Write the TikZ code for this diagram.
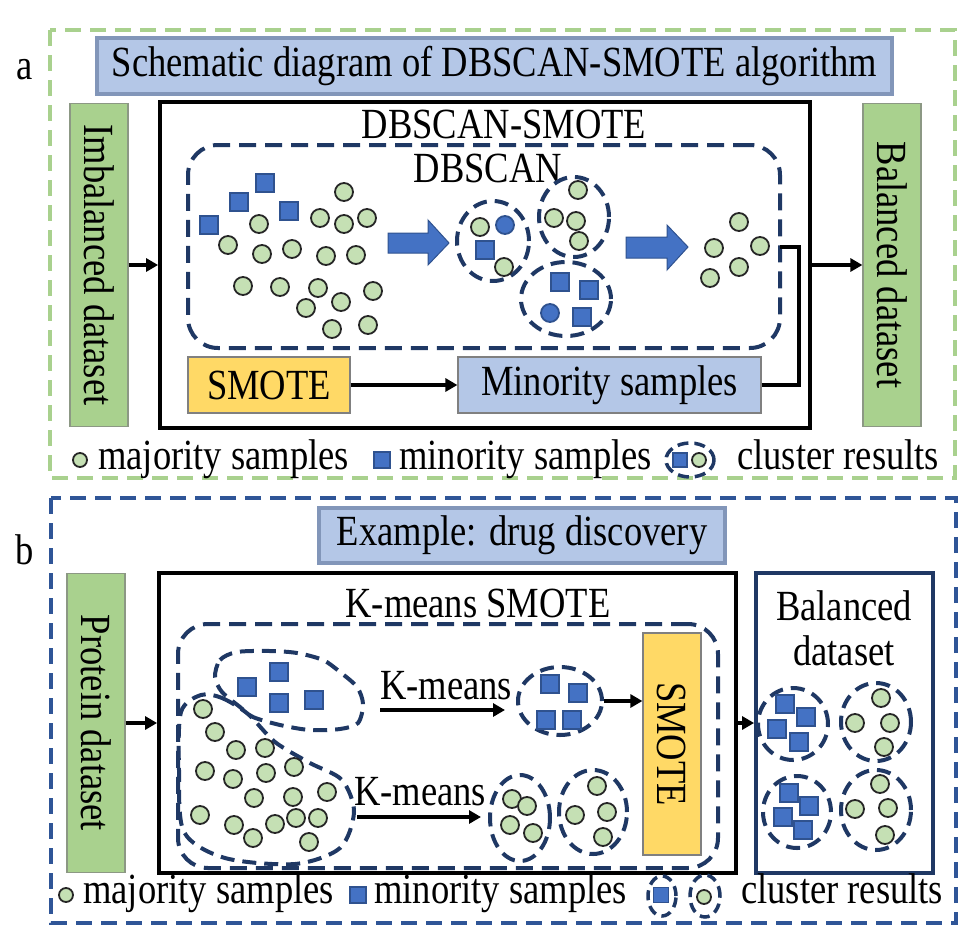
\documentclass[tikz,border=0pt]{standalone}
\usepackage{fontspec}
\setmainfont{Liberation Serif}[FakeStretch=0.85]
\usepackage{tikz}
\usetikzlibrary{arrows.meta}
\usetikzlibrary{shapes.geometric}
\definecolor{leafgreen}{RGB}{169, 209, 142}
\definecolor{dotgreen}{RGB}{197, 224, 180}
\definecolor{sqblue}{RGB}{68, 114, 196}
\definecolor{sqedge}{RGB}{47, 82, 143}
\definecolor{navy}{RGB}{31, 56, 100}
\definecolor{paleblue}{RGB}{180, 199, 231}
\definecolor{bevel}{RGB}{130, 150, 185}
\definecolor{sunyellow}{RGB}{255, 217, 102}
\definecolor{frameblue}{RGB}{47, 85, 151}

\begin{document}
\begin{tikzpicture}[x=1pt, y=-1pt, font=\fontsize{43}{45}\selectfont,
        maj/.style = {circle, draw=black!85, fill=dotgreen, line width=1.8pt, minimum size=18pt, inner sep=0pt},
        mino/.style = {rectangle, draw=sqedge, fill=sqblue, line width=1.2pt, minimum size=18pt, inner sep=0pt},
        coredot/.style = {maj, draw=sqedge, fill=sqblue},
        clus/.style = {ellipse, draw=navy, line width=4pt, dash pattern=on 14pt off 8pt, inner sep=0pt},
        blob/.style = {draw=navy, line width=4pt, dash pattern=on 17pt off 9pt, rounded corners=30pt, inner sep=0pt},
        sidebox/.style = {draw=gray!70!leafgreen, fill=leafgreen, line width=1.2pt, rotate=-90, minimum height=58pt, inner sep=0pt},
        framebox/.style = {draw=black, line width=3.8pt, inner sep=0pt},
        headbox/.style = {draw=bevel, fill=paleblue, line width=4pt, inner sep=0pt},
        stepbox/.style = {draw=gray, line width=1.2pt, minimum height=56pt, inner sep=0pt},
        txt/.style = {inner sep=0pt},
        arr/.style = {line width=3.5pt, -{Triangle[length=12pt, width=13pt]}},
        bigarrow/.style = {fill=sqblue, draw=sqedge, line width=1pt}]
        \useasboundingbox (0,0) rectangle (970,946);

        \draw[leafgreen, line width=3.5pt, dash pattern=on 16pt off 9pt] (50,30) rectangle (955,478);
        \node[txt] (tagA) at (25,70) {a};
        \node[headbox, minimum width=795pt, minimum height=56pt] (headA) at (494.5,66) {Schematic diagram of DBSCAN-SMOTE algorithm};
        \node[sidebox, minimum width=323pt] (imb) at (99,265) {Imbalanced dataset};
        \node[framebox, minimum width=650pt, minimum height=326pt] (dsbox) at (485,265) {};
        \node[sidebox, minimum width=323pt] (bal) at (892,265) {Balanced dataset};
        \draw[arr] (imb) -- (dsbox);
        \draw[arr] (dsbox) -- (bal);
        \node[txt] (dstitle) at (504,124) {DBSCAN-SMOTE};
        \node[blob, minimum width=592pt, minimum height=203pt] (dbscan) at (484,246.5) {};
        \node[txt] (dbtitle) at (488,168) {DBSCAN};

        \foreach \x/\y [count=\i] in {209/225, 239/202, 265/183, 289/211}
            \node[mino] (sa\i) at (\x,\y) {};
        \foreach \x/\y [count=\i] in {344/192, 259/224, 228/245, 320/218, 344/224, 367/218, 262/254, 292/249, 326/256, 356/255, 243/286, 280/287, 318/288, 341/302, 373/291, 306/308, 332/329, 368/325}
            \node[maj] (ga\i) at (\x,\y) {};

        \draw[bigarrow] (388,233) -- (428,233) -- (428,220) -- (449,243) -- (428,265) -- (428,253) -- (388,253) -- cycle;
        \draw[bigarrow] (626,237) -- (667,237) -- (667,225) -- (688,247) -- (667,270) -- (667,258) -- (626,258) -- cycle;

        \node[clus, minimum width=72pt, minimum height=80pt] (ca1) at (493,241) {};
        \node[clus, minimum width=70pt, minimum height=80pt] (ca2) at (574,217) {};
        \node[clus, minimum width=90pt, minimum height=74pt] (ca3) at (566,299) {};
        \node[maj] (ca1g1) at (480,227) {};
        \node[coredot] (ca1b) at (505,225) {};
        \node[mino] (ca1s) at (485,250) {};
        \node[maj] (ca1g2) at (504,267) {};
        \foreach \x/\y [count=\i] in {578/190, 554/218, 576/221, 579/241}
            \node[maj] (ca2g\i) at (\x,\y) {};
        \foreach \x/\y [count=\i] in {560/282, 589/290, 582/317}
            \node[mino] (ca3s\i) at (\x,\y) {};
        \node[coredot] (ca3b) at (550,313) {};
        \foreach \x/\y [count=\i] in {739/222, 714/248, 760/246, 739/267, 710/278}
            \node[maj] (oa\i) at (\x,\y) {};

        \node[stepbox, fill=sunyellow, minimum width=162pt] (smote) at (269,385) {SMOTE};
        \node[stepbox, fill=paleblue, minimum width=303pt] (minor) at (609.5,385) {Minority samples};
        \draw[arr] (smote) -- (minor);
        \coordinate (join) at (780,247);
        \coordinate (bend) at (799,247);
        \draw[line width=3.5pt] (minor.east) -| (bend) -- (join);

        \node[maj, minimum size=14pt] (lgA1) at (80,460) {};
        \node[txt, anchor=base west] (lgA1t) at (98,469) {majority samples};
        \node[mino, minimum size=16pt] (lgA2) at (382,460) {};
        \node[txt, anchor=base west] (lgA2t) at (399,469) {minority samples};
        \node[mino, minimum size=14pt] (lgA3s) at (680,460) {};
        \node[maj, minimum size=14pt] (lgA3g) at (699,460) {};
        \node[clus, line width=3.5pt, dash pattern=on 11pt off 6pt, minimum width=48pt, minimum height=34pt] (lgA3) at (690,460) {};
        \node[txt, anchor=base west] (lgA3t) at (737,469) {cluster results};

        \draw[frameblue, line width=3.5pt, dash pattern=on 16pt off 9pt] (51,498) rectangle (956,923);
        \node[txt] (tagB) at (25,550) {b};
        \node[headbox, minimum width=406pt, minimum height=55pt] (headB) at (522,535.5) {Example: drug discovery};
        \node[sidebox, minimum width=299pt] (prot) at (96,723) {Protein dataset};
        \node[framebox, minimum width=577pt, minimum height=300pt] (kbox) at (447.5,723) {};
        \node[framebox, draw=navy, minimum width=177pt, minimum height=300pt] (balB) at (844.5,723) {};
        \draw[arr] (prot) -- (kbox);
        \draw[arr] (kbox) -- (balB);
        \node[txt] (ktitle) at (478,603) {K-means SMOTE};
        \node[txt, align=center] (baltitle) at (844,628) {Balanced\\dataset};
        \node[blob, minimum width=540pt, minimum height=244pt] (kouter) at (448,746) {};
        \node[sidebox, draw=gray, fill=sunyellow, minimum width=222pt] (smoteB) at (672,744) {SMOTE};

        \draw[navy, line width=4pt, dash pattern=on 14pt off 8pt] plot[smooth cycle] coordinates {(215,677) (220,660) (237,652) (270,651) (297,653) (323,660) (340,672) (357,687) (363,704) (358,723) (340,729) (310,730) (280,725) (253,717) (240,707) (222,692)};
        \draw[navy, line width=4pt, dash pattern=on 14pt off 8pt] plot[smooth cycle] coordinates {(201,695) (222,698) (248,714) (275,742) (310,763) (342,780) (354,812) (340,848) (295,864) (225,858) (184,832) (179,770) (181,712)};
        \foreach \x/\y [count=\i] in {247/687, 279/672, 279/703, 314/700}
            \node[mino] (sb\i) at (\x,\y) {};
        \foreach \x/\y [count=\i] in {203/709, 215/732, 236/750, 265/748, 205/771, 233/779, 266/773, 294/767, 254/798, 293/797, 327/792, 200/815, 234/825, 275/824, 296/818, 318/818, 253/838, 309/842}
            \node[maj] (gb\i) at (\x,\y) {};

        \coordinate (k1a) at (380,710);
        \coordinate (k1b) at (505,710);
        \draw[arr] (k1a) -- (k1b);
        \node[txt] (k1t) at (446,686) {K-means};
        \coordinate (k2a) at (357,817);
        \coordinate (k2b) at (481,817);
        \draw[arr] (k2a) -- (k2b);
        \node[txt] (k2t) at (420,792) {K-means};

        \node[clus, minimum width=84pt, minimum height=68pt] (mcl) at (560,701) {};
        \foreach \x/\y [count=\i] in {550/684, 578/693, 546/720, 572/720}
            \node[mino] (mcls\i) at (\x,\y) {};
        \draw[arr] (mcl) -- (mcl -| smoteB.south);
        \node[clus, minimum width=60pt, minimum height=86pt] (gcl1) at (520,818) {};
        \foreach \x/\y [count=\i] in {512/799, 527/806, 510/825, 533/833}
            \node[maj] (gcla\i) at (\x,\y) {};
        \node[clus, minimum width=68pt, minimum height=84pt] (gcl2) at (593,812) {};
        \foreach \x/\y [count=\i] in {597/786, 575/815, 607/812, 603/837}
            \node[maj] (gclb\i) at (\x,\y) {};

        \node[clus, minimum width=70pt, minimum height=72pt] (bc1) at (793,724) {};
        \foreach \x/\y [count=\i] in {785/704, 806/717, 777/729, 799/742}
            \node[mino] (bc1s\i) at (\x,\y) {};
        \node[clus, minimum width=70pt, minimum height=78pt] (bc2) at (876,722) {};
        \foreach \x/\y [count=\i] in {881/698, 855/723, 890/723, 884/747}
            \node[maj] (bc2g\i) at (\x,\y) {};
        \node[clus, minimum width=68pt, minimum height=72pt] (bc3) at (797,812) {};
        \foreach \x/\y [count=\i] in {789/793, 809/806, 783/817, 803/830}
            \node[mino] (bc3s\i) at (\x,\y) {};
        \node[clus, minimum width=70pt, minimum height=80pt] (bc4) at (876,810) {};
        \foreach \x/\y [count=\i] in {880/784, 855/809, 888/808, 885/835}
            \node[maj] (bc4g\i) at (\x,\y) {};

        \node[maj, minimum size=14pt] (lgB1) at (66,895) {};
        \node[txt, anchor=base west] (lgB1t) at (83,903) {majority samples};
        \node[mino, minimum size=16pt] (lgB2) at (358,895) {};
        \node[txt, anchor=base west] (lgB2t) at (374,903) {minority samples};
        \node[mino, minimum size=15pt] (lgB3s) at (661,895) {};
        \node[maj, minimum size=14pt] (lgB3g) at (704,897) {};
        \node[clus, line width=3.5pt, dash pattern=on 10pt off 6pt, minimum width=28pt, minimum height=40pt] (lgB3a) at (662,896) {};
        \node[clus, line width=3.5pt, dash pattern=on 10pt off 6pt, minimum width=30pt, minimum height=42pt] (lgB3b) at (705,896) {};
        \node[txt, anchor=base west] (lgB3t) at (741,903) {cluster results};
    \end{tikzpicture}
\end{document}
